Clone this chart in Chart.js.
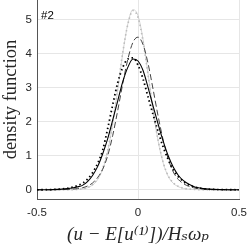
<!DOCTYPE html>
<html><head><meta charset="utf-8">
<script src="https://cdn.jsdelivr.net/npm/chart.js@4.4.0/dist/chart.umd.min.js"></script>
<style>
html,body{margin:0;padding:0;background:#fff;}
#wrap{position:relative;width:249px;height:246px;}
#tag{position:absolute;left:41px;top:10px;font:11.5px "Liberation Sans",Arial,sans-serif;color:#000;line-height:11px;}
</style></head><body>
<div id="wrap"><canvas id="c" width="249" height="246"></canvas><div id="tag">#2</div></div>
<script>
const xValues = [-0.5,-0.475,-0.45,-0.425,-0.4,-0.375,-0.35,-0.325,-0.3,-0.275,-0.25,-0.225,-0.2,-0.175,-0.15,-0.125,-0.1,-0.075,-0.05,-0.025,0,0.025,0.05,0.075,0.1,0.125,0.15,0.175,0.2,0.225,0.25,0.275,0.3,0.325,0.35,0.375,0.4,0.425,0.45,0.475,0.5];
const solidBlack = [0,0.001,0.003,0.006,0.012,0.02,0.035,0.055,0.085,0.13,0.24,0.42,0.68,1.05,1.50,2.05,2.62,3.18,3.60,3.84,3.78,3.50,3.00,2.45,1.92,1.42,0.99,0.66,0.42,0.27,0.17,0.10,0.06,0.035,0.02,0.012,0.007,0.004,0.002,0.001,0];
const dottedBlack = [0,0.001,0.004,0.008,0.015,0.027,0.045,0.075,0.12,0.19,0.31,0.50,0.77,1.16,1.80,2.50,3.15,3.60,3.84,3.87,3.66,3.25,2.72,2.20,1.70,1.25,0.88,0.58,0.38,0.24,0.15,0.09,0.055,0.032,0.018,0.01,0.006,0.003,0.002,0.001,0];
const dashedDark = [0,0,0.001,0.002,0.004,0.007,0.012,0.02,0.035,0.06,0.11,0.20,0.36,0.60,1.00,1.60,2.34,3.13,3.84,4.33,4.48,4.26,3.70,2.94,2.15,1.45,0.90,0.52,0.30,0.18,0.105,0.06,0.035,0.02,0.012,0.007,0.004,0.002,0.001,0,0];
const lightLine = [0,0,0,0,0,0.001,0.002,0.004,0.01,0.025,0.06,0.14,0.30,0.60,1.13,1.94,2.96,4.02,4.88,5.29,5.11,4.41,3.39,2.33,1.42,0.78,0.39,0.19,0.09,0.04,0.02,0.01,0.005,0.002,0.001,0,0,0,0,0,0];
const lightDots = [0,0,0,0,0,0.001,0.002,0.005,0.011,0.027,0.065,0.15,0.32,0.63,1.16,1.98,3.00,4.05,4.86,5.26,5.06,4.36,3.36,2.32,1.44,0.80,0.41,0.20,0.10,0.045,0.022,0.011,0.005,0.002,0.001,0,0,0,0,0,0];
const xTickValues = [-0.5, 0, 0.5];
const yTickValues = [0, 1, 2, 3, 4, 5];
const xTitle = "(u − E[u⁽¹⁾])/Hₛωₚ";
const yTitle = "density function";

const pts = arr => arr.map((v, i) => ({x: xValues[i], y: v}));
const tickFont = {family: "'Liberation Sans', Arial, sans-serif", size: 11.5};

new Chart(document.getElementById('c'), {
  type: 'line',
  data: {
    datasets: [
      {data: pts(solidBlack), borderColor: '#000', borderWidth: 1.1},
      {data: pts(dottedBlack), borderColor: '#000', borderWidth: 1.8, borderDash: [1.5, 2.8]},
      {data: pts(dashedDark), borderColor: '#444', borderWidth: 1, borderDash: [6, 3]},
      {data: pts(lightDots), borderColor: '#bdbdbd', borderWidth: 1.6, borderDash: [1.5, 2.8]},
      {data: pts(lightLine), borderColor: '#d4d4d4', borderWidth: 1}
    ]
  },
  options: {
    responsive: false,
    animation: false,
    devicePixelRatio: 1,
    layout: {padding: {left: 0, top: 0, right: 10, bottom: 0}},
    elements: {point: {radius: 0}, line: {cubicInterpolationMode: 'monotone', fill: false}},
    plugins: {legend: {display: false}, tooltip: {enabled: false}},
    scales: {
      x: {
        type: 'linear', min: -0.5, max: 0.5,
        afterFit: s => { s.height = 47; s.paddingLeft = 0; s.paddingRight = 0; },
        afterBuildTicks: s => { s.ticks = xTickValues.map(v => ({value: v})); },
        ticks: {font: tickFont, color: '#262626', padding: 7, maxRotation: 0},
        grid: {color: '#e6e6e6', drawTicks: false, lineWidth: 1},
        border: {display: true, color: '#555', width: 1},
        title: {display: true, text: xTitle, color: '#262626',
          font: {family: "'Liberation Serif', 'DejaVu Serif', serif", size: 19, style: 'italic'},
          padding: {top: 0, bottom: 0}}
      },
      y: {
        type: 'linear', min: -0.27, max: 5.57,
        afterFit: s => { s.width = 37; s.paddingTop = 0; s.paddingBottom = 0; },
        afterBuildTicks: s => { s.ticks = yTickValues.map(v => ({value: v})); },
        ticks: {font: tickFont, color: '#262626', padding: 5},
        grid: {color: '#e6e6e6', drawTicks: false, lineWidth: 1},
        border: {display: true, color: '#555', width: 1},
        title: {display: true, text: yTitle, color: '#262626',
          font: {family: "'Liberation Serif', 'DejaVu Serif', serif", size: 18.5},
          padding: {top: 0, bottom: 0}}
      }
    }
  }
});
</script>
</body></html>
